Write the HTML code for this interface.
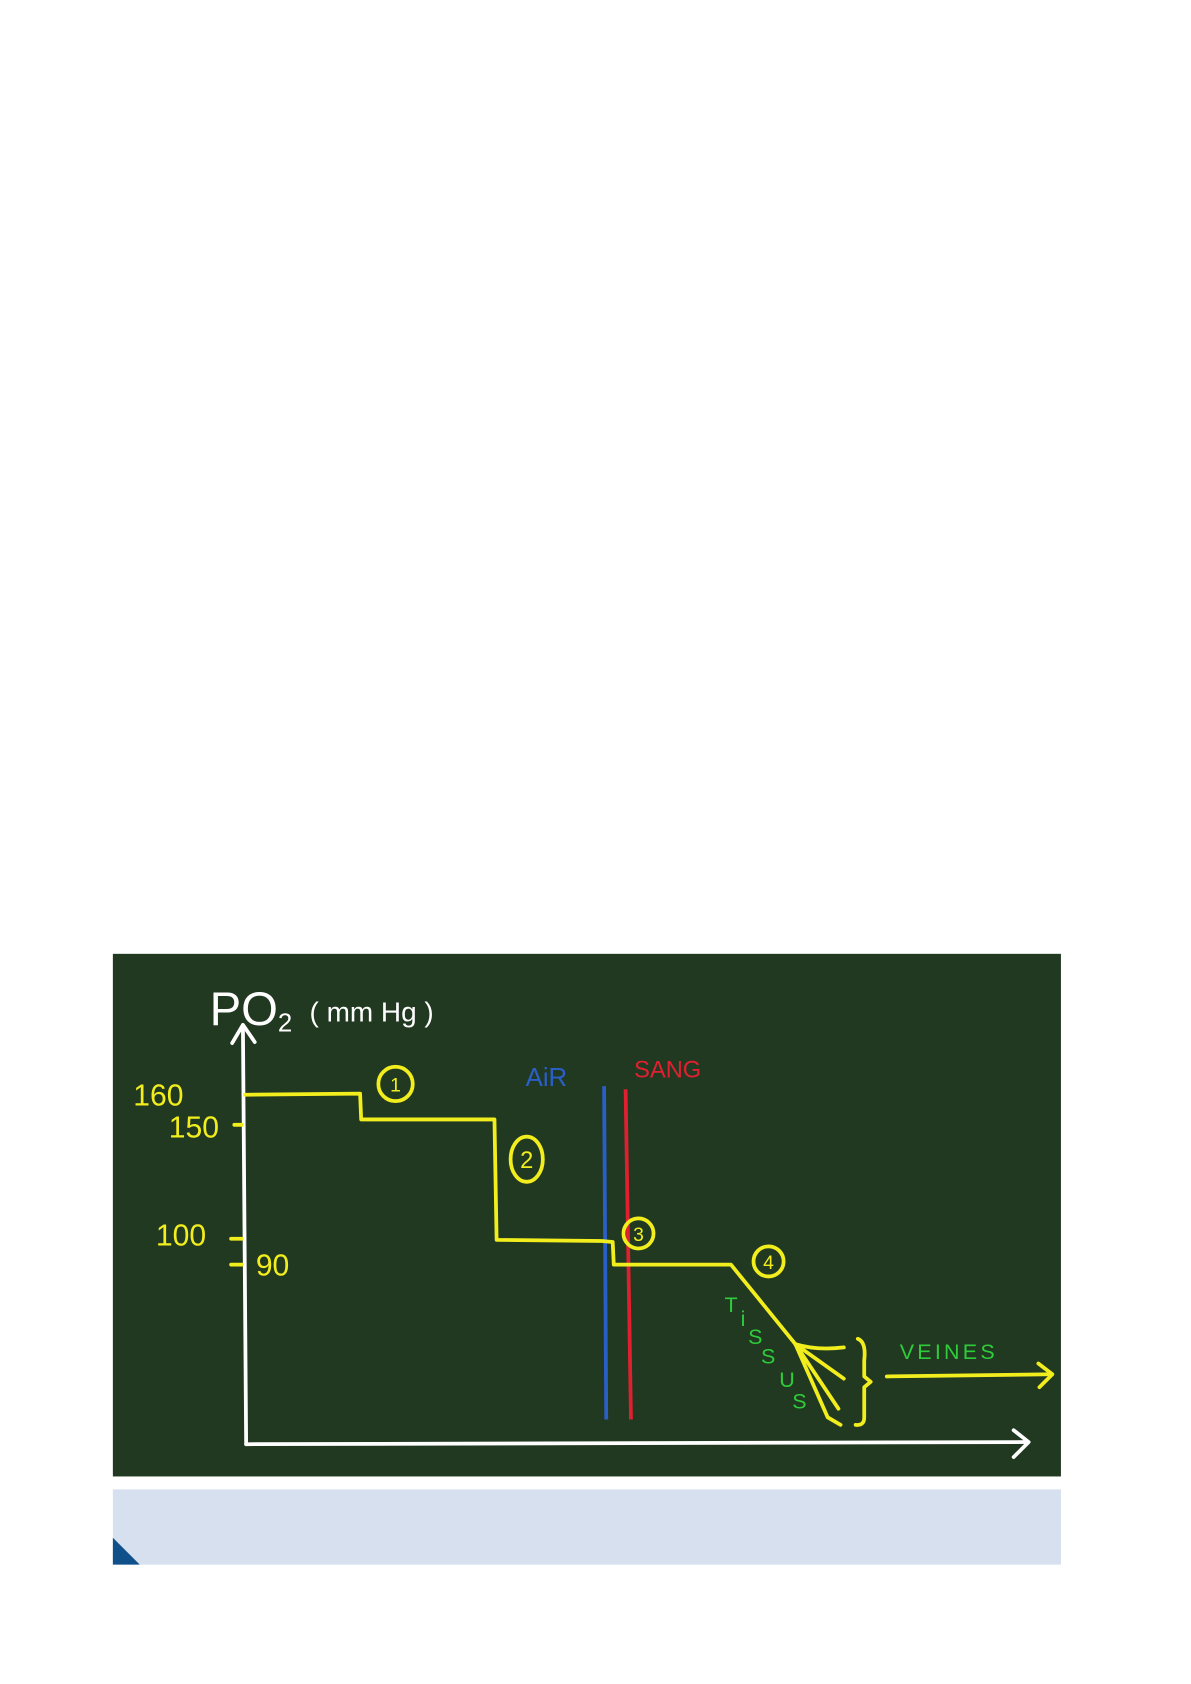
<!DOCTYPE html>
<html><head><meta charset="utf-8"><style>
html,body{margin:0;padding:0;background:#fff;width:1191px;height:1684px;overflow:hidden}
svg{display:block}
text{font-family:"Liberation Sans",sans-serif}
</style></head><body>
<svg width="1191" height="1684" viewBox="0 0 1108 1566" preserveAspectRatio="none">
<rect x="0" y="0" width="1108" height="1566" fill="#fff"/>
<rect x="105" y="887" width="882" height="486" fill="#213921"/>
<rect x="105" y="1385" width="882" height="70" fill="#d6e0ee"/>
<polygon points="105,1430 105,1455 130,1455" fill="#0f4f8a"/>
<g stroke="#fff" stroke-width="3.5" fill="none" stroke-linecap="round" stroke-linejoin="round">
<path d="M229,1343 L226,955"/>
<path d="M216,970 L226,953 L237,969"/>
<path d="M229,1343 L955,1341"/>
<path d="M943,1330 L957,1341 L943,1355"/>
</g>
<path d="M562,1010 L564,1320" stroke="#2a5fc8" stroke-width="3.5"/>
<path d="M582,1013 L587,1320" stroke="#e02030" stroke-width="3.5"/>
<g stroke="#f2ee1e" stroke-width="3.5" fill="none" stroke-linecap="round" stroke-linejoin="round">
<path d="M228,1018 L335,1017 L336,1041 L460,1041 L462,1153 L560,1154 L570,1155 L571,1176 L680,1176 L740,1250"/>
<path d="M740,1250 Q760,1256 785,1253"/>
<path d="M740,1250 L785,1282"/>
<path d="M740,1250 L780,1310"/>
<path d="M740,1250 L770,1318 L782,1325"/>
<path d="M798,1245 Q806,1248 804,1265 L804,1280 L810,1285 L804,1290 L804,1318 Q804,1326 796,1325"/>
<path d="M825,1280 L978,1278"/>
<path d="M966,1268 L979,1278 L967,1290"/>
<path d="M215,1152 L225,1152 M215,1176 L225,1176 M218,1046 L225,1046"/>
<circle cx="368" cy="1008" r="16"/>
<ellipse cx="490" cy="1078" rx="15" ry="21"/>
<circle cx="594" cy="1147" r="14"/>
<circle cx="715" cy="1173" r="14"/>
</g>
<g fill="#f2ee1e" font-size="18" text-anchor="middle">
<text x="368" y="1015">1</text>
<text x="490" y="1086" font-size="22">2</text>
<text x="594" y="1154">3</text>
<text x="715" y="1180">4</text>
</g>
<g fill="#f2ee1e" font-size="28">
<text x="124" y="1028">160</text>
<text x="157" y="1058">150</text>
<text x="145" y="1158">100</text>
<text x="238" y="1186">90</text>
</g>
<text x="195" y="953" fill="#fff" font-size="44">PO<tspan font-size="24" dy="6">2</tspan></text>
<text x="288" y="950" fill="#fff" font-size="26">( mm Hg )</text>
<text x="489" y="1010" fill="#2a5fc8" font-size="24">AiR</text>
<text x="590" y="1002" fill="#e02030" font-size="22">SANG</text>
<text x="837" y="1264" fill="#2ecc3a" font-size="20" letter-spacing="3">VEINES</text>
<g fill="#2ecc3a" font-size="20">
<text x="674" y="1220">T</text><text x="689" y="1233">i</text>
<text x="696" y="1250">S</text><text x="708" y="1268">S</text>
<text x="725" y="1290">U</text><text x="737" y="1310">S</text>
</g>
</svg>
</body></html>
